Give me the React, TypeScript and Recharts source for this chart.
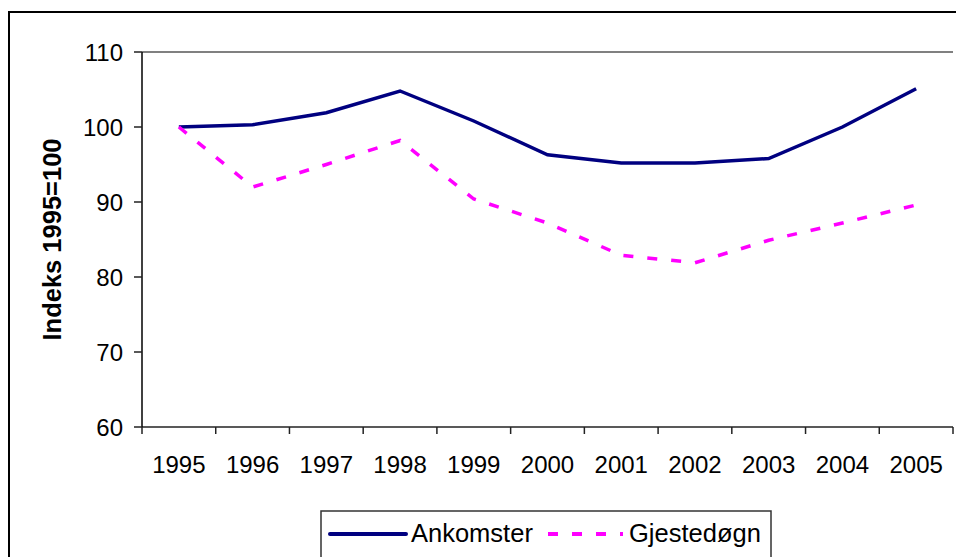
import React from 'react';
import { LineChart, Line, XAxis, YAxis, ReferenceLine } from 'recharts';

// --- Data ---
const years = ['1995', '1996', '1997', '1998', '1999', '2000', '2001', '2002', '2003', '2004', '2005'];
const ankomster = [100, 100.3, 101.9, 104.8, 100.8, 96.3, 95.2, 95.2, 95.8, 100.0, 105.1];
const gjestedogn = [100, 92.0, 95.0, 98.2, 90.4, 87.2, 82.9, 81.9, 84.9, 87.2, 89.6];
const yTicks = [60, 70, 80, 90, 100, 110];

const chartData = years.map((year, i) => ({
    year,
    Ankomster: ankomster[i],
    'Gjestedøgn': gjestedogn[i],
}));

const FONT = '"Liberation Sans", Arial, sans-serif';
const NAVY = '#000080';
const MAGENTA = '#FF00FF';

// --- Tick kategori: label di tengah, garis tick di batas kategori ---
const YearTick = (props: any) => {
    const { x, y, payload, index, visibleTicksCount } = props;
    const half = payload.offset || 0;
    const axisY = y - 28;
    return (
        <g>
            <line x1={x - half} x2={x - half} y1={axisY} y2={axisY + 7} stroke="#222" strokeWidth={1.5} />
            {index === visibleTicksCount - 1 && (
                <line x1={x + half} x2={x + half} y1={axisY} y2={axisY + 7} stroke="#222" strokeWidth={1.5} />
            )}
            <text x={x} y={y} dy={18} textAnchor="middle" fontSize={24} fill="#000" fontFamily={FONT}>
                {payload.value}
            </text>
        </g>
    );
};

const YTitle = (props: any) => {
    const vb = props.viewBox || { x: 0, y: 52, width: 142, height: 375 };
    const cx = vb.x + 61;
    const cy = vb.y + vb.height / 2;
    return (
        <text
            x={cx}
            y={cy}
            transform={`rotate(-90 ${cx} ${cy})`}
            textAnchor="middle"
            fontSize={25.5}
            fontWeight="bold"
            fill="#000"
            fontFamily={FONT}
        >
            Indeks 1995=100
        </text>
    );
};

const ChartLegend = () => (
    <svg width={956} height={557} style={{ position: 'absolute', left: 0, top: 0, pointerEvents: 'none' }}>
        <rect x={321} y={511} width={450} height={80} fill="#fff" stroke="#333" strokeWidth={1.5} />
        <line x1={330} x2={406} y1={534} y2={534} stroke={NAVY} strokeWidth={4} strokeLinecap="round" />
        <text x={411} y={542} fontSize={25.5} fill="#000" fontFamily={FONT}>Ankomster</text>
        <line x1={548} x2={623} y1={534} y2={534} stroke={MAGENTA} strokeWidth={4} strokeDasharray="10 14" />
        <text x={629} y={542} fontSize={25.5} fill="#000" fontFamily={FONT}>Gjestedøgn</text>
    </svg>
);

export default function App() {
    return (
        <div style={{ position: 'absolute', left: 0, top: 0, width: 956, height: 557, overflow: 'hidden', background: '#fff' }}>
            {/* Bingkai luar chart */}
            <div style={{ position: 'absolute', left: 8, top: 11, width: 1000, height: 1000, border: '2.5px solid #000' }} />
            <div style={{ position: 'absolute', left: 0, top: 0 }}>
                <LineChart width={956} height={557} data={chartData} margin={{ top: 52, right: 3, left: 0, bottom: 70 }}>
                    <XAxis
                        dataKey="year"
                        scale="band"
                        height={60}
                        tickLine={false}
                        tickSize={7}
                        tickMargin={21}
                        axisLine={{ stroke: '#222', strokeWidth: 1.5 }}
                        tick={<YearTick />}
                        interval={0}
                    />
                    <YAxis
                        domain={[60, 110]}
                        ticks={yTicks}
                        width={142}
                        tickSize={8}
                        tickMargin={11}
                        axisLine={{ stroke: '#000', strokeWidth: 1.5 }}
                        tickLine={{ stroke: '#222', strokeWidth: 1.5 }}
                        tick={{ fontSize: 24, fill: '#000', fontFamily: FONT }}
                        label={<YTitle />}
                    />
                    <YAxis
                        yAxisId="r"
                        orientation="right"
                        width={0}
                        tick={false}
                        tickLine={false}
                        axisLine={{ stroke: '#808080', strokeWidth: 2 }}
                    />
                    <ReferenceLine y={110} stroke="#808080" strokeWidth={2} />
                    <Line
                        type="linear"
                        dataKey="Ankomster"
                        stroke={NAVY}
                        strokeWidth={3.5}
                        dot={false}
                        isAnimationActive={false}
                    />
                    <Line
                        type="linear"
                        dataKey="Gjestedøgn"
                        stroke={MAGENTA}
                        strokeWidth={3.5}
                        strokeDasharray="10 14"
                        dot={false}
                        isAnimationActive={false}
                    />
                </LineChart>
            </div>
            <ChartLegend />
        </div>
    );
}
